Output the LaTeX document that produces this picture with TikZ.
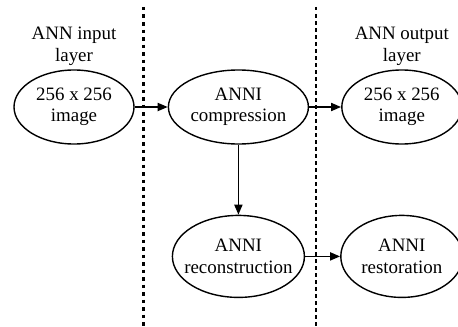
\documentclass[tikz,border=0pt]{standalone}
\usepackage{fontspec}
\setmainfont{Liberation Serif}
\usetikzlibrary{arrows.meta,positioning,shapes.geometric}

\begin{document}
\begin{tikzpicture}[x=1bp, y=1bp,
  node distance=33bp,
  blob/.style={draw, ellipse, line width=1.4bp, align=center,
               inner xsep=-10bp, inner ysep=0pt,
               minimum width=120bp, minimum height=74bp,
               font=\fontsize{19}{21.5}\selectfont},
  tag/.style={align=center, inner sep=0pt, font=\fontsize{19}{21.5}\selectfont},
  arr/.style={-{Triangle[length=10bp, width=8bp]}, line width=1.8bp},
  split/.style={line width=3bp, dash pattern=on 3.5bp off 4bp},
  thinsplit/.style={line width=2bp, dash pattern=on 3.5bp off 3.5bp}]
\useasboundingbox (0,0) rectangle (458,326);
\node[blob] (inimg) at (74,219) {256 x 256\\image};
\node[blob, minimum width=140bp, right=33bp of inimg] (compr) {ANNI\\compression};
\node[blob, right=32bp of compr] (outimg) {256 x 256\\image};
\node[blob, minimum width=132bp, minimum height=82bp, below=70bp of compr] (recon) {ANNI\\reconstruction};
\node[blob, minimum width=122bp, minimum height=82bp, right=35bp of recon] (resto) {ANNI\\restoration};
\node[tag, above=4bp of inimg] (inlbl) {ANN input\\layer};
\node[tag, above=4bp of outimg] (outlbl) {ANN output\\layer};
% layer separators
\coordinate (ltop) at (143,319);
\coordinate (lbot) at (143,0);
\coordinate (rtop) at (316,319);
\coordinate (rbot) at (316,0);
\draw[split] (ltop) -- (lbot);
\draw[thinsplit] (rtop) -- (rbot);
\draw[arr] (inimg) -- (compr);
\draw[arr] (compr) -- (outimg);
\draw[arr] (compr) -- (recon);
\draw[arr] (recon) -- (resto);
\end{tikzpicture}
\end{document}
